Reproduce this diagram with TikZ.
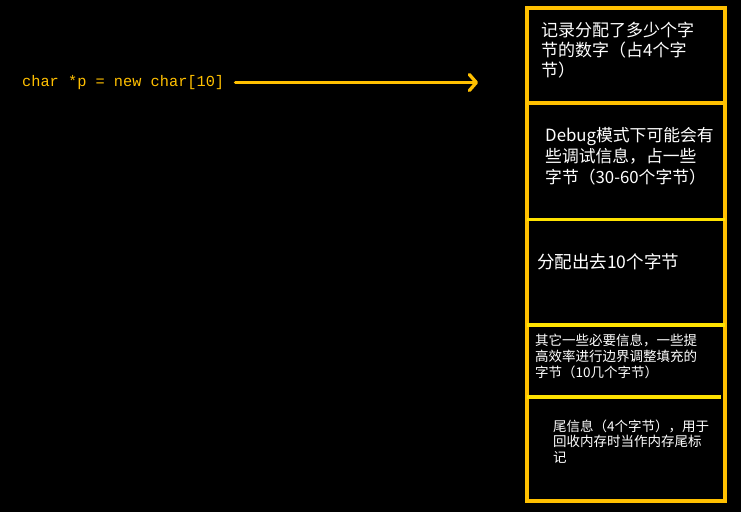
\documentclass[tikz,border=0pt]{standalone}
\usepackage{fontspec}
\newfontfamily\cjk{Noto Sans CJK SC}
\newfontfamily\codefont{Liberation Mono}
\usetikzlibrary{arrows.meta}
\definecolor{gold}{HTML}{FFC000}
\definecolor{lemon}{HTML}{FFE200}
\begin{document}
\begin{tikzpicture}[x=1pt,y=-1pt,
  cell/.style={anchor=base west, inner sep=0pt, text=white, align=left, text width=185pt},
  frame/.style={draw=gold, line width=3.5pt},
  divider/.style={draw=lemon, line width=3.5pt},
  pointer/.style={draw=gold, line width=3.3pt, line cap=round,
    -{Straight Barb[length=7pt, width=16pt, line cap=round, line join=round]}}]
\fill[black] (0,0) rectangle (741,512);
\useasboundingbox (0,0) rectangle (741,512);
% memory block
\draw[frame] (527,8) rectangle (725,501);
\draw[frame] (527,103) -- (724,103);
\draw[divider] (527,219.5) -- (725,219.5);
\draw[divider] (527,325) -- (725,325);
\draw[divider] (527,397) -- (721,397);
% texts
\node[cell, font=\cjk\fontsize{17}{20}\selectfont] (c1) at (541,36.5)
  {记录分配了多少个字\\节的数字（占4个字\\节）};
\node[cell, font=\cjk\fontsize{16.8}{21}\selectfont] (c2) at (545,141.4)
  {Debug模式下可能会有\\些调试信息，占一些\\字节（30-60个字节）};
\node[cell, font=\cjk\fontsize{17.5}{21}\selectfont] (c3) at (537,268.7)
  {分配出去10个字节};
\node[cell, font=\cjk\fontsize{13.5}{16}\selectfont] (c4) at (535,345.1)
  {其它一些必要信息，一些提\\高效率进行边界调整填充的\\字节（10几个字节）};
\node[cell, font=\cjk\fontsize{13.5}{15.7}\selectfont] (c5) at (553,431.1)
  {尾信息（4个字节），用于\\回收内存时当作内存尾标\\记};
% code and arrow
\node[anchor=base west, inner sep=0pt, text=gold, font=\codefont\fontsize{15.3}{18}\selectfont] (code) at (22,86.5)
  {char *p = new char[10]};
\coordinate (tipx) at (478,0);
\draw[pointer, shorten <=11pt] (code.east) -- (code.east -| tipx);
\end{tikzpicture}
\end{document}
